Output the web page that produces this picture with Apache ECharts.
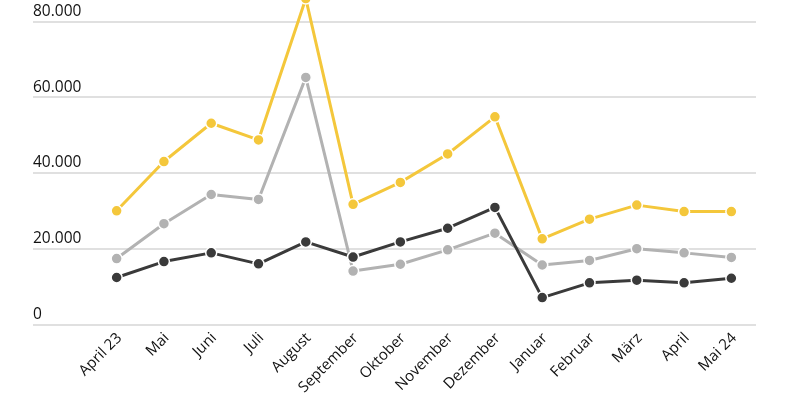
<!DOCTYPE html>
<html>
<head>
<meta charset="utf-8">
<script src="https://cdn.jsdelivr.net/npm/echarts@6/dist/echarts.min.js"></script>
<style>html,body{margin:0;padding:0;background:#fff}#c{width:800px;height:400px}</style>
</head>
<body>
<div id="c"></div>
<script>
const categories = ['April 23','Mai','Juni','Juli','August','September','Oktober','November','Dezember','Januar','Februar','März','April','Mai 24'];
const yellowValues = [30000,43000,53100,48700,86000,31700,37500,45000,54800,22600,27800,31500,29800,29800];
const grayValues = [17400,26600,34300,33000,65200,14100,15900,19700,24100,15700,16900,20000,18900,17700];
const darkValues = [12400,16600,18900,16000,21800,17800,21800,25400,30900,7100,11000,11700,11000,12200];
const yTicks = [0,20000,40000,60000,80000];

const font = 'Open Sans';
const chart = echarts.init(document.getElementById('c'), null, {renderer:'canvas'});
function mkSeries(name, data, color){
  return {
    name, type:'line', data, xAxisIndex:1, yAxisIndex:1,
    clip:false, symbol:'circle', symbolSize:11, showSymbol:true,
    lineStyle:{color, width:3},
    itemStyle:{color, borderColor:'#fff', borderWidth:1.5},
    emphasis:{disabled:true}, animation:false
  };
}
chart.setOption({
  animation:false,
  grid:[
    {left:33, right:44, top:21.3, bottom:75.5},
    {left:93, right:45, top:21.3, bottom:75.5}
  ],
  xAxis:[
    {gridIndex:0, type:'value', show:false, min:0, max:1},
    {gridIndex:1, type:'category', data:categories, boundaryGap:true,
     axisLine:{show:false}, axisTick:{show:false},
     axisLabel:{rotate:45, margin:14, padding:[0,-4,0,0], fontFamily:font, fontSize:15, color:'#111', interval:0}}
  ],
  yAxis:[
    {gridIndex:0, type:'value', min:0, max:80000, interval:20000,
     axisLine:{show:false}, axisTick:{show:false},
     splitLine:{lineStyle:{color:'#d6d6d6', width:1.5}},
     axisLabel:{inside:true, margin:0, verticalAlign:'bottom', padding:[0,0,2,0],
       fontFamily:font, fontSize:15.5, color:'#111',
       formatter:v => yTicks.includes(v) ? (v===0?'0':(v/1000)+'.000') : ''}},
    {gridIndex:1, type:'value', min:0, max:80000, interval:20000, show:false, splitLine:{show:false}}
  ],
  series:[
    mkSeries('Gelb', yellowValues, '#F4C73B'),
    mkSeries('Grau', grayValues, '#B2B2B2'),
    mkSeries('Dunkel', darkValues, '#3A3A3A')
  ]
});
</script>
</body>
</html>
